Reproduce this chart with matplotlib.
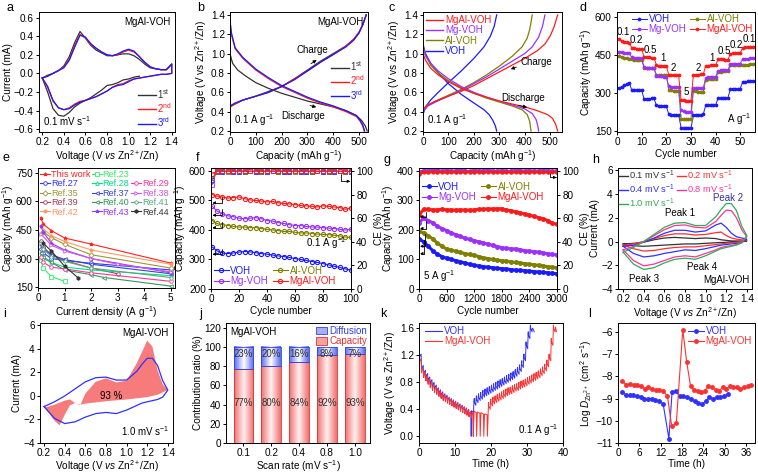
import numpy as np
import matplotlib
matplotlib.use('Agg')
import matplotlib.pyplot as plt
from matplotlib.colors import LinearSegmentedColormap
from matplotlib.lines import Line2D
from matplotlib.patches import Patch

plt.rcParams['font.family'] = ['Liberation Sans', 'DejaVu Sans']
plt.rcParams['mathtext.fontset'] = 'custom'
plt.rcParams['mathtext.rm'] = 'Liberation Sans'
plt.rcParams['mathtext.it'] = 'Liberation Sans:italic'
plt.rcParams['mathtext.bf'] = 'Liberation Sans:bold'
plt.rcParams['axes.linewidth'] = 0.7
plt.rcParams['xtick.major.width'] = 0.7
plt.rcParams['ytick.major.width'] = 0.7
plt.rcParams['xtick.major.size'] = 2.5
plt.rcParams['ytick.major.size'] = 2.5
plt.rcParams['xtick.major.pad'] = 1.2
plt.rcParams['ytick.major.pad'] = 1.2
plt.rcParams['xtick.labelsize'] = 7.2
plt.rcParams['ytick.labelsize'] = 7.2
plt.rcParams['axes.labelsize'] = 7.2
plt.rcParams['axes.labelpad'] = 1.0

C_VOH = '#1a1aff'
C_MG = '#9b30ff'
C_AL = '#808000'
C_MGAL = '#ff1a1a'
FS = 7.0

# ---------------- data: panel a (CV, 0.1 mV/s) ----------------
a_v = [0.2, 0.25, 0.3, 0.35, 0.4, 0.45, 0.5, 0.55, 0.6, 0.65, 0.7, 0.75, 0.8,
       0.85, 0.9, 0.95, 1.0, 1.05, 1.1, 1.15, 1.2, 1.25, 1.3, 1.35, 1.4]
a_an1 = [-0.05, -0.02, 0.0, 0.03, 0.08, 0.18, 0.33, 0.45, 0.38, 0.3, 0.25, 0.22, 0.19,
         0.19, 0.2, 0.21, 0.21, 0.19, 0.15, 0.1, 0.06, 0.05, 0.04, 0.04, 0.1]
a_ca1 = [-0.05, -0.2, -0.38, -0.45, -0.46, -0.42, -0.36, -0.32, -0.29, -0.26, -0.22,
         -0.18, -0.13, -0.12, -0.1, -0.07, -0.06, -0.04, -0.03]
a_an2 = [-0.05, -0.03, 0.0, 0.03, 0.07, 0.15, 0.3, 0.42, 0.38, 0.31, 0.27, 0.23, 0.2,
         0.19, 0.2, 0.23, 0.25, 0.23, 0.18, 0.12, 0.07, 0.05, 0.04, 0.04, 0.1]
a_ca2 = [-0.05, -0.15, -0.3, -0.37, -0.39, -0.37, -0.33, -0.3, -0.29, -0.27, -0.25,
         -0.22, -0.19, -0.15, -0.12, -0.11, -0.08, -0.06, -0.05, -0.04, -0.03, -0.02,
         -0.01, -0.01, 0.0]
a_an3 = [-0.05, -0.03, 0.0, 0.03, 0.06, 0.14, 0.28, 0.41, 0.39, 0.32, 0.27, 0.23, 0.2,
         0.19, 0.21, 0.24, 0.26, 0.24, 0.18, 0.12, 0.07, 0.05, 0.04, 0.04, 0.1]
a_ca3 = [-0.05, -0.14, -0.29, -0.37, -0.39, -0.38, -0.34, -0.31, -0.29, -0.27, -0.25,
         -0.22, -0.19, -0.15, -0.13, -0.12, -0.09, -0.06, -0.05, -0.04, -0.03, -0.02,
         -0.01, -0.01, 0.0]

# ---------------- panel b (GCD, MgAl-VOH) ----------------
b_dis1_c = [0, 10, 30, 60, 100, 150, 200, 250, 300, 350, 400, 450, 490, 510, 525, 532]
b_dis1_v = [1.0, 0.9, 0.83, 0.77, 0.7, 0.64, 0.59, 0.55, 0.51, 0.48, 0.45, 0.41, 0.36, 0.31, 0.25, 0.2]
b_dis2_c = [0, 5, 20, 50, 100, 150, 200, 250, 300, 350, 400, 450, 490, 505, 515, 520]
b_dis2_v = [1.33, 1.2, 1.05, 0.95, 0.83, 0.74, 0.66, 0.6, 0.54, 0.49, 0.45, 0.4, 0.35, 0.3, 0.25, 0.2]
b_dis3_c = [0, 5, 20, 50, 100, 150, 200, 250, 300, 350, 400, 450, 490, 505, 515, 522]
b_dis3_v = [1.35, 1.22, 1.06, 0.96, 0.84, 0.75, 0.67, 0.61, 0.55, 0.5, 0.46, 0.41, 0.36, 0.31, 0.26, 0.2]
b_chg_c = [0, 20, 50, 100, 150, 200, 250, 300, 350, 400, 450, 480, 500, 515, 528]
b_chg1_v = [0.45, 0.48, 0.52, 0.56, 0.61, 0.66, 0.74, 0.83, 0.92, 1.0, 1.08, 1.15, 1.22, 1.3, 1.4]
b_chg2_v = [0.45, 0.48, 0.52, 0.56, 0.6, 0.66, 0.74, 0.82, 0.91, 0.99, 1.08, 1.15, 1.22, 1.3, 1.4]
b_chg3_v = [0.46, 0.49, 0.52, 0.56, 0.6, 0.66, 0.73, 0.82, 0.91, 0.99, 1.07, 1.14, 1.21, 1.3, 1.4]

# ---------------- panel c (GCD, four samples) ----------------
c_mgal_dc = [0, 10, 30, 60, 100, 150, 200, 250, 300, 350, 400, 450, 490, 510, 522, 530]
c_mgal_dv = [1.0, 0.93, 0.85, 0.78, 0.71, 0.64, 0.59, 0.55, 0.51, 0.48, 0.45, 0.41, 0.37, 0.33, 0.27, 0.2]
c_mgal_cc = [0, 20, 50, 100, 150, 200, 250, 300, 350, 400, 450, 480, 500, 515, 530]
c_mgal_cv = [0.43, 0.47, 0.51, 0.56, 0.61, 0.67, 0.74, 0.81, 0.88, 0.95, 1.03, 1.1, 1.18, 1.27, 1.4]
c_mg_dc = [0, 10, 30, 60, 100, 150, 200, 250, 300, 350, 400, 430, 445, 452, 455]
c_mg_dv = [1.05, 0.98, 0.9, 0.82, 0.74, 0.66, 0.6, 0.55, 0.51, 0.47, 0.43, 0.38, 0.32, 0.25, 0.2]
c_mg_cc = [0, 20, 50, 100, 150, 200, 250, 300, 350, 400, 430, 455, 470, 480]
c_mg_cv = [0.4, 0.46, 0.5, 0.56, 0.62, 0.69, 0.76, 0.84, 0.92, 1.0, 1.07, 1.17, 1.28, 1.4]
c_al_dc = [0, 10, 30, 60, 100, 150, 200, 250, 300, 350, 390, 410, 420, 425]
c_al_dv = [1.08, 0.98, 0.88, 0.8, 0.72, 0.65, 0.59, 0.54, 0.5, 0.46, 0.42, 0.37, 0.3, 0.2]
c_al_cc = [0, 20, 50, 100, 150, 200, 250, 300, 350, 390, 410, 420, 430]
c_al_cv = [0.42, 0.47, 0.51, 0.57, 0.63, 0.7, 0.78, 0.87, 0.97, 1.07, 1.16, 1.25, 1.4]
c_voh_dc = [0, 10, 30, 60, 100, 150, 200, 240, 260, 275, 285, 290]
c_voh_dv = [1.1, 1.0, 0.9, 0.8, 0.69, 0.58, 0.49, 0.42, 0.37, 0.31, 0.25, 0.2]
c_voh_cc = [0, 10, 30, 60, 100, 150, 200, 240, 265, 280, 290]
c_voh_cv = [0.37, 0.45, 0.52, 0.6, 0.7, 0.82, 0.95, 1.07, 1.18, 1.28, 1.4]

# ---------------- panel d (rate capability, 55 cycles) ----------------
d_cycles = np.arange(1, 56)
d_mgal = [512, 505, 502, 500, 498, 478, 476, 475, 474, 474, 442, 440, 440, 439, 439,
          410, 408, 408, 408, 407, 372, 371, 370, 370, 370, 272, 270, 268, 268, 268,
          372, 372, 372, 373, 373, 408, 408, 409, 409, 409, 432, 432, 432, 431, 431,
          455, 456, 456, 457, 457, 478, 480, 480, 481, 481]
d_mg = [462, 460, 458, 457, 456, 440, 438, 437, 436, 436, 402, 400, 399, 398, 398,
        368, 366, 365, 364, 364, 328, 325, 324, 323, 323, 232, 228, 226, 224, 224,
        318, 318, 319, 319, 319, 360, 361, 361, 362, 362, 388, 389, 390, 390, 390,
        414, 415, 415, 416, 416, 434, 435, 435, 436, 436]
d_al = [445, 440, 438, 436, 435, 432, 431, 430, 430, 430, 400, 399, 398, 398, 397,
        372, 371, 370, 370, 369, 312, 310, 309, 308, 308, 198, 197, 197, 196, 196,
        308, 306, 305, 304, 304, 352, 353, 354, 354, 354, 383, 384, 385, 385, 385,
        410, 410, 411, 411, 411, 410, 412, 412, 413, 413]
d_voh = [320, 325, 330, 335, 340, 310, 310, 311, 311, 311, 275, 276, 277, 278, 278,
         250, 249, 249, 248, 248, 215, 214, 214, 213, 213, 162, 161, 161, 161, 160,
         212, 213, 213, 214, 215, 250, 251, 252, 252, 252, 278, 279, 280, 280, 280,
         314, 315, 316, 316, 317, 343, 344, 345, 345, 346]
d_rate_labels = ['0.1', '0.2', '0.5', '1', '2', '5', '2', '1', '0.5', '0.2', '0.1']
d_label_x = [2.5, 8, 13.5, 18.5, 23, 28, 33, 38.5, 43.5, 48.5, 53.5]
d_label_y = [522, 488, 450, 418, 380, 282, 380, 418, 445, 468, 492]

# ---------------- panel e (comparison) ----------------
tw_x = [0.1, 0.2, 0.5, 1, 2, 5];        tw_y = [515, 480, 447, 408, 376, 276]
r23_x = [0.1, 0.2, 0.5, 1];             r23_y = [290, 250, 205, 180]
r27_x = [0.1, 0.2, 0.5, 1, 2, 5];       r27_y = [350, 330, 300, 290, 275, 240]
r28_x = [0.1, 0.2, 0.5, 1, 2, 5];       r28_y = [320, 300, 280, 255, 240, 210]
r29_x = [0.1, 0.2, 0.5, 1, 2, 5];       r29_y = [310, 280, 255, 245, 225, 180]
r35_x = [0.2, 0.5, 1, 2, 5];            r35_y = [440, 410, 375, 320, 250]
r37_x = [0.1, 0.2, 0.5, 1, 2, 5];       r37_y = [370, 350, 320, 295, 270, 220]
r38_x = [0.1, 0.5, 1, 2, 3, 5];         r38_y = [430, 370, 340, 300, 270, 230]
r39_x = [0.1, 0.2, 0.5, 1, 2, 3];       r39_y = [390, 360, 320, 290, 250, 220]
r40_x = [0.1, 0.2, 0.5, 1, 2, 2.5, 5];  r40_y = [330, 310, 280, 240, 215, 200, 155]
r41_x = [0.1, 0.2, 0.5, 1, 2, 5];       r41_y = [380, 350, 310, 285, 250, 200]
r42_x = [0.1, 0.5, 1, 2, 5];            r42_y = [470, 420, 390, 345, 270]
r43_x = [0.1, 0.2, 0.5, 1, 2, 5];       r43_y = [470, 440, 380, 345, 300, 225]
r44_x = [0.2, 0.5, 1, 1.5];             r44_y = [380, 340, 260, 200]

# ---------------- panel f (0.1 A/g cycling) ----------------
f_cyc = [1, 4, 8, 12, 16, 20, 24, 28, 32, 36, 40, 44, 48, 52, 56, 60, 64, 68, 72, 76,
         80, 84, 88, 92, 96, 100]
f_mgal = [520, 515, 512, 508, 510, 512, 506, 502, 500, 498, 495, 497, 492, 490, 488,
          486, 483, 482, 480, 478, 482, 480, 478, 476, 470, 475]
f_mg = [480, 465, 455, 448, 445, 440, 438, 440, 442, 438, 432, 430, 425, 422, 418, 415,
        415, 412, 410, 410, 408, 406, 405, 402, 400, 402]
f_al = [432, 422, 418, 415, 412, 410, 410, 408, 408, 405, 402, 400, 398, 395, 395, 392,
        390, 390, 388, 386, 385, 384, 382, 380, 376, 375]
f_voh = [342, 330, 322, 320, 322, 325, 327, 326, 323, 320, 318, 315, 312, 310, 307, 303,
         300, 297, 293, 290, 286, 282, 277, 273, 268, 264]
f_ce_mgal = [97.5, 99.6, 99.7, 99.8, 99.7, 99.8, 99.7, 99.8, 99.8, 99.7, 99.8, 99.8, 99.7,
             99.8, 99.7, 99.8, 99.8, 99.7, 99.8, 99.8, 99.7, 99.8, 99.8, 99.7, 99.8, 99.8]
f_ce_mg = [88.5, 99.8, 100.2, 100.0, 100.1, 100.3, 100.0, 100.1, 100.2, 100.0, 100.1, 100.3,
           100.0, 100.1, 100.2, 100.0, 100.1, 100.2, 100.0, 100.1, 100.3, 100.0, 100.1,
           100.2, 100.0, 100.1]
f_ce_al = [94.0, 99.5, 99.6, 99.5, 99.6, 99.7, 99.5, 99.6, 99.6, 99.5, 99.6, 99.7, 99.5,
           99.6, 99.6, 99.5, 99.6, 99.7, 99.5, 99.6, 99.6, 99.5, 99.6, 99.7, 99.5, 99.6]
f_ce_voh = [92.0, 99.4, 99.5, 99.6, 99.5, 99.4, 99.5, 99.6, 99.5, 99.4, 99.5, 99.6, 99.5,
            99.4, 99.5, 99.6, 99.5, 99.4, 99.5, 99.6, 99.5, 99.4, 99.5, 99.6, 99.5, 99.4]

# ---------------- panel g (5 A/g long cycling) ----------------
g_cyc = [1, 100, 200, 300, 400, 500, 600, 700, 800, 900, 1000, 1100, 1200, 1300, 1400,
         1500, 1600, 1700, 1800, 1900, 2000, 2100, 2200, 2300, 2400, 2500, 2600, 2700,
         2800, 2900, 3000]
g_mgal = [250, 270, 270, 268, 268, 270, 268, 268, 267, 268, 268, 267, 268, 270, 270, 272,
          271, 272, 272, 268, 265, 262, 258, 254, 250, 246, 242, 238, 232, 222, 220]
g_mg = [225, 240, 232, 224, 212, 205, 198, 190, 184, 178, 172, 168, 164, 160, 156, 152,
        148, 144, 140, 138, 136, 136, 133, 130, 128, 127, 125, 122, 120, 117, 116]
g_al = [195, 190, 180, 170, 155, 145, 135, 132, 128, 124, 120, 117, 114, 110, 106, 103,
        100, 98, 96, 94, 92, 90, 88, 86, 84, 82, 80, 78, 76, 74, 72]
g_voh = [170, 160, 145, 130, 118, 110, 104, 100, 96, 92, 88, 84, 80, 78, 76, 74, 72, 70,
         69, 68, 66, 64, 63, 62, 60, 59, 58, 56, 55, 53, 52]
g_ce_mgal = [97.0, 99.2, 98.8, 99.3, 98.9, 99.1, 98.7, 99.2, 98.9, 99.0, 98.8, 99.3, 98.9,
             99.1, 98.8, 99.2, 98.9, 99.0, 98.7, 99.2, 98.9, 99.1, 98.8, 99.0, 98.9, 99.2,
             98.7, 99.0, 98.8, 99.1, 98.9]
g_ce_mg = [99.0, 100.5, 99.8, 101.0, 100.2, 99.6, 100.8, 100.0, 99.7, 100.9, 100.1, 99.5,
           100.7, 100.2, 99.8, 101.0, 100.1, 99.6, 100.6, 100.0, 99.7, 100.8, 100.3, 99.9,
           100.5, 100.0, 99.6, 100.9, 100.2, 99.8, 100.4]
g_ce_al = [98.0, 99.6, 99.4, 99.8, 99.5, 99.7, 99.3, 99.6, 99.5, 99.8, 99.4, 99.6, 99.5,
           99.7, 99.3, 99.6, 99.5, 99.8, 99.4, 99.6, 99.5, 99.7, 99.3, 99.6, 99.5, 99.8,
           99.4, 99.6, 99.5, 99.7, 99.4]
g_ce_voh = [97.5, 99.8, 100.2, 99.6, 100.4, 99.9, 100.1, 99.7, 100.3, 99.8, 100.2, 99.6,
            100.1, 99.9, 100.3, 99.7, 100.0, 99.8, 100.2, 99.6, 100.1, 99.9, 100.3, 99.7,
            100.0, 99.8, 100.2, 99.6, 100.1, 99.9, 98.8]

# ---------------- panel h (CV at various scan rates) ----------------
h_v = [0.2, 0.3, 0.4, 0.5, 0.6, 0.7, 0.8, 0.9, 1.0, 1.1, 1.15, 1.2, 1.25, 1.3, 1.35, 1.4]
h_an_01 = [-0.2, -0.15, -0.05, 0.15, 0.3, 0.35, 0.3, 0.25, 0.3, 0.25, 0.15, 0.1, 0.05, 0.05, 0.05, 0.05]
h_ca_01 = [-0.2, -0.35, -0.4, -0.35, -0.3, -0.25, -0.2, -0.2, -0.15, -0.1, -0.08, -0.06, -0.05, -0.03, 0.0, 0.05]
h_an_02 = [-0.3, -0.2, 0.0, 0.25, 0.5, 0.65, 0.65, 0.55, 0.6, 0.75, 0.8, 0.5, 0.3, 0.2, 0.15, 0.1]
h_ca_02 = [-0.3, -0.6, -0.8, -0.75, -0.6, -0.5, -0.45, -0.45, -0.35, -0.25, -0.2, -0.15, -0.1, -0.05, 0.0, 0.1]
h_an_04 = [-0.4, -0.3, -0.05, 0.3, 0.7, 0.95, 0.95, 0.8, 0.9, 1.4, 1.55, 1.2, 0.7, 0.4, 0.3, 0.2]
h_ca_04 = [-0.4, -1.0, -1.3, -1.2, -1.0, -0.85, -0.7, -0.75, -0.6, -0.4, -0.3, -0.25, -0.2, -0.15, -0.1, 0.2]
h_an_08 = [-0.7, -0.4, 0.0, 0.5, 1.0, 1.35, 1.4, 1.2, 1.15, 1.7, 2.2, 2.65, 2.6, 2.0, 1.0, 0.4]
h_ca_08 = [-0.7, -1.6, -2.05, -1.9, -1.6, -1.3, -1.2, -1.3, -1.0, -0.7, -0.5, -0.4, -0.35, -0.25, -0.1, 0.4]
h_an_10 = [-0.9, -0.5, 0.0, 0.6, 1.2, 1.55, 1.6, 1.35, 1.35, 2.1, 2.7, 3.2, 3.2, 2.6, 1.3, 0.5]
h_ca_10 = [-0.9, -1.9, -2.35, -2.2, -1.8, -1.5, -1.4, -1.5, -1.2, -0.8, -0.6, -0.5, -0.4, -0.3, -0.1, 0.5]

# ---------------- panel i (capacitive contribution at 1.0 mV/s) ----------------
i_cap_v = [0.2, 0.3, 0.4, 0.45, 0.5, 0.55, 0.6, 0.7, 0.8, 0.9, 1.0, 1.1, 1.2, 1.25, 1.3,
           1.35, 1.4, 1.3, 1.2, 1.0, 0.8, 0.6, 0.55, 0.5, 0.45, 0.4, 0.35, 0.3, 0.25, 0.2]
i_cap_i = [-1.0, -0.75, -0.4, -0.3, -0.6, -0.8, 0.2, 1.2, 1.5, 1.15, 1.3, 2.8, 4.7, 4.2,
           2.2, 1.0, 0.5, 0.1, -0.1, -0.3, -0.45, -0.65, -0.75, -0.6, -0.8, -1.6, -2.5,
           -2.1, -1.5, -1.0]

# ---------------- panel j (contribution ratio) ----------------
j_rates = ['0.1', '0.2', '0.4', '0.8', '1.0']
j_capacitive = [77, 80, 84, 92, 93]
j_diffusion = [23, 20, 16, 8, 7]

# ---------------- panel k (GITT) ----------------
k_step = 0.6
k_voh_dis = [1.45, 1.22, 1.05, 0.98, 0.93, 0.88, 0.84, 0.8, 0.76, 0.72, 0.69, 0.66, 0.63,
             0.61, 0.58, 0.56, 0.54, 0.52, 0.5, 0.48, 0.46, 0.44, 0.42, 0.4, 0.37]
k_voh_dip_t = [14.5, 14.6, 15.0, 15.1, 15.2]
k_voh_dip_v = [0.0, 0.38, 0.36, 0.0, 0.4]
k_voh_chg = [0.4, 0.46, 0.5, 0.53, 0.55, 0.58, 0.6, 0.62, 0.64, 0.66, 0.68, 0.7, 0.72,
             0.74, 0.76, 0.78, 0.8, 0.82, 0.84, 0.86, 0.89, 0.92, 0.96, 1.02, 1.12, 1.3,
             1.45, 1.55]
k_voh_tail_t = [31.6, 32.0]
k_voh_tail_v = [1.6, 1.55]
k_mgal_dis = [1.3, 1.15, 1.02, 0.95, 0.9, 0.85, 0.8, 0.76, 0.73, 0.7, 0.67, 0.64, 0.61,
              0.59, 0.57, 0.55, 0.53, 0.51, 0.49, 0.47, 0.45, 0.43, 0.41, 0.39, 0.37, 0.35]
k_mgal_dip_t = [15.1, 15.3, 15.9, 16.0, 16.2, 16.9, 17.0, 17.2, 17.9, 18.0, 18.2, 18.9, 19.0, 19.2]
k_mgal_dip_v = [0.0, 0.37, 0.35, 0.0, 0.36, 0.34, 0.0, 0.35, 0.33, 0.0, 0.33, 0.32, 0.0, 0.3]
k_mgal_chg = [0.3, 0.4, 0.45, 0.48, 0.5, 0.52, 0.54, 0.56, 0.58, 0.6, 0.62, 0.63, 0.65,
              0.67, 0.68, 0.7, 0.72, 0.73, 0.75, 0.77, 0.79, 0.81, 0.83, 0.85, 0.87, 0.9,
              0.93, 0.97, 1.03, 1.12, 1.35, 1.55]
k_mgal_tail_t = [37.9, 38.2]
k_mgal_tail_v = [1.62, 1.55]

# ---------------- panel l (diffusion coefficient) ----------------
l_voh_t = [1.2, 2.3, 3.3, 4.3, 5.3, 6.4, 7.4, 8.4, 9.5, 10.5, 11.5, 12.7, 14.3, 15.2, 16.3,
           17.3, 18.4, 19.4, 20.5, 21.5, 22.5, 23.6, 24.7, 25.7, 26.7, 27.8, 28.8, 29.8, 30.9]
l_voh_d = [-8.7, -8.85, -8.85, -8.85, -8.9, -8.95, -9.0, -9.0, -9.0, -9.05, -9.1, -9.25,
           -10.8, -8.7, -8.65, -8.9, -8.9, -8.95, -9.0, -9.1, -9.2, -9.25, -9.1, -8.95,
           -9.0, -8.95, -8.95, -8.9, -8.8]
l_mgal_t = [1.2, 2.3, 3.3, 4.4, 5.4, 6.5, 7.5, 8.5, 9.6, 10.6, 11.6, 12.7, 13.9, 15.1,
            16.4, 18.2, 19.3, 20.4, 21.4, 22.4, 23.4, 24.4, 25.4, 26.4, 27.4, 28.4, 29.4,
            30.4, 31.4, 32.4, 33.4, 34.4, 35.4, 36.4, 37.4]
l_mgal_d = [-8.2, -8.4, -8.35, -8.4, -8.4, -8.45, -8.55, -8.5, -8.55, -8.6, -8.6, -8.65,
            -8.9, -10.25, -10.1, -5.9, -7.35, -8.45, -8.6, -8.65, -8.7, -8.65, -8.45, -8.5,
            -8.6, -8.65, -8.5, -8.55, -8.45, -8.5, -8.5, -8.55, -8.5, -8.45, -8.4]

W, H = 758, 474
fig = plt.figure(figsize=(W / 100, H / 100), dpi=100)


def px_axes(l, t, r, b):
    return fig.add_axes([l / W, 1 - b / H, (r - l) / W, (b - t) / H])


def colored_legend(ax, handles, labels, colors, **kw):
    kw.setdefault('fontsize', FS)
    kw.setdefault('handletextpad', 0.2)
    kw.setdefault('labelspacing', 0.05)
    kw.setdefault('borderaxespad', 0.1)
    kw.setdefault('borderpad', 0.2)
    leg = ax.legend(handles, labels, frameon=False, **kw)
    for txt, c in zip(leg.get_texts(), colors):
        txt.set_color(c)
    return leg


def gitt(t0, relaxed, eta, pulse=0.15):
    t, v = [], []
    for i, r in enumerate(relaxed):
        ti = t0 + i * k_step
        t += [ti, ti]
        v += [r, r + eta / 2]
        if i + 1 < len(relaxed):
            t += [ti + pulse, ti + pulse]
            v += [relaxed[i + 1] + eta, relaxed[i + 1] + eta / 2]
    return t, v


VLAB = r'Voltage (V $\it{vs}$ Zn$^{2+}$/Zn)'
ORD = ['1$^{\\mathrm{st}}$', '2$^{\\mathrm{nd}}$', '3$^{\\mathrm{rd}}$']
ROW3_T, ROW3_B = 323, 443

# ---------------- a ----------------
ax = px_axes(39, 12, 175, 132)
ax.plot(a_v[:19][::-1] + a_v, a_ca1[::-1] + a_an1, color='#333333', lw=0.9)
ax.plot(a_v + a_v[::-1], a_an2 + a_ca2[::-1], color=C_MGAL, lw=0.9)
ax.plot(a_v + a_v[::-1], a_an3 + a_ca3[::-1], color=C_VOH, lw=0.9)
ax.set_xlim(0.17, 1.43)
ax.set_ylim(-0.63, 0.66)
ax.set_xticks([0.2, 0.4, 0.6, 0.8, 1.0, 1.2, 1.4])
ax.set_yticks([-0.6, -0.4, -0.2, 0.0, 0.2, 0.4, 0.6])
ax.set_xlabel(VLAB)
ax.set_ylabel('Current (mA)')
ax.text(0.97, 0.96, 'MgAl-VOH', transform=ax.transAxes, ha='right', va='top', fontsize=FS)
ax.text(0.03, 0.03, r'0.1 mV s$^{-1}$', transform=ax.transAxes, ha='left', va='bottom', fontsize=FS)
hs = [Line2D([], [], color=c, lw=1) for c in ['#333333', C_MGAL, C_VOH]]
colored_legend(ax, hs, ORD, ['#333333', C_MGAL, C_VOH], loc='lower right', handlelength=1.8)

# ---------------- b ----------------
ax = px_axes(230, 12, 368, 132)
ax.plot(b_dis1_c, b_dis1_v, color='#333333', lw=0.9)
ax.plot(b_chg_c, b_chg1_v, color='#333333', lw=0.9)
ax.plot(b_dis2_c, b_dis2_v, color=C_MGAL, lw=0.9)
ax.plot(b_chg_c, b_chg2_v, color=C_MGAL, lw=0.9)
ax.plot(b_dis3_c, b_dis3_v, color=C_VOH, lw=0.9)
ax.plot(b_chg_c, b_chg3_v, color=C_VOH, lw=0.9)
ax.set_xlim(0, 535)
ax.set_ylim(0.19, 1.43)
ax.set_xticks([0, 100, 200, 300, 400, 500])
ax.set_yticks([0.2, 0.4, 0.6, 0.8, 1.0, 1.2, 1.4])
ax.set_xlabel(r'Capacity (mAh g$^{-1}$)')
ax.set_ylabel(r'Voltage (V vs Zn$^{2+}$/Zn)')
ax.text(0.97, 0.96, 'MgAl-VOH', transform=ax.transAxes, ha='right', va='top', fontsize=FS)
ax.text(0.03, 0.03, r'0.1 A g$^{-1}$', transform=ax.transAxes, ha='left', va='bottom', fontsize=FS)
ax.text(320, 1.04, 'Charge', ha='center', va='center', fontsize=FS)
ax.annotate('', xy=(345, 0.95), xytext=(305, 0.88),
            arrowprops=dict(arrowstyle='-|>', lw=0.6, color='k', mutation_scale=5))
ax.text(285, 0.36, 'Discharge', ha='center', va='center', fontsize=FS)
ax.annotate('', xy=(345, 0.44), xytext=(300, 0.47),
            arrowprops=dict(arrowstyle='-|>', lw=0.6, color='k', mutation_scale=5))
hs = [Line2D([], [], color=c, lw=1) for c in ['#333333', C_MGAL, C_VOH]]
colored_legend(ax, hs, ORD, ['#333333', C_MGAL, C_VOH], loc='center right',
               bbox_to_anchor=(1.0, 0.43), handlelength=1.8)

# ---------------- c ----------------
ax = px_axes(423, 12, 562, 132)
for dc, dv, cc, cv, col in [(c_voh_dc, c_voh_dv, c_voh_cc, c_voh_cv, C_VOH),
                            (c_al_dc, c_al_dv, c_al_cc, c_al_cv, C_AL),
                            (c_mg_dc, c_mg_dv, c_mg_cc, c_mg_cv, C_MG),
                            (c_mgal_dc, c_mgal_dv, c_mgal_cc, c_mgal_cv, C_MGAL)]:
    ax.plot(dc, dv, color=col, lw=0.9)
    ax.plot(cc, cv, color=col, lw=0.9)
ax.set_xlim(0, 547)
ax.set_ylim(0.19, 1.43)
ax.set_xticks([0, 100, 200, 300, 400, 500])
ax.set_yticks([0.2, 0.4, 0.6, 0.8, 1.0, 1.2, 1.4])
ax.set_xlabel(r'Capacity (mAh g$^{-1}$)')
ax.set_ylabel(r'Voltage (V vs Zn$^{2+}$/Zn)')
ax.text(0.03, 0.03, r'0.1 A g$^{-1}$', transform=ax.transAxes, ha='left', va='bottom', fontsize=FS)
ax.text(385, 0.91, 'Charge', ha='left', va='center', fontsize=FS)
ax.annotate('', xy=(335, 0.83), xytext=(378, 0.87),
            arrowprops=dict(arrowstyle='-|>', lw=0.6, color='k', mutation_scale=5))
ax.text(395, 0.54, 'Discharge', ha='center', va='center', fontsize=FS)
ax.annotate('', xy=(420, 0.44), xytext=(365, 0.47),
            arrowprops=dict(arrowstyle='-|>', lw=0.6, color='k', mutation_scale=5))
cols = [C_MGAL, C_MG, C_AL, C_VOH]
hs = [Line2D([], [], color=c, lw=1) for c in cols]
colored_legend(ax, hs, ['MgAl-VOH', 'Mg-VOH', 'Al-VOH', 'VOH'], cols, loc='upper left',
               handlelength=1.8)

# ---------------- d ----------------
ax = px_axes(617, 12, 755, 132)
for ys, col in [(d_voh, C_VOH), (d_al, C_AL), (d_mg, C_MG), (d_mgal, C_MGAL)]:
    ax.plot(d_cycles, ys, color=col, lw=0.7, marker='o', ms=1.7)
for s, x, y in zip(d_rate_labels, d_label_x, d_label_y):
    ax.text(x, y, s, ha='center', va='bottom', fontsize=FS)
ax.text(0.97, 0.04, r'A g$^{-1}$', transform=ax.transAxes, ha='right', va='bottom', fontsize=FS)
ax.set_xlim(0, 56)
ax.set_ylim(145, 620)
ax.set_xticks([0, 10, 20, 30, 40, 50])
ax.set_yticks([150, 300, 450, 600])
ax.set_xlabel('Cycle number')
ax.set_ylabel(r'Capacity (mAh g$^{-1}$)')
cols = [C_VOH, C_MG, C_AL, C_MGAL]
hs = [Line2D([], [], color=c, lw=0.7, marker='o', ms=1.7) for c in cols]
colored_legend(ax, hs, ['VOH', 'Mg-VOH', 'Al-VOH', 'MgAl-VOH'], cols, loc='upper right',
               ncol=2, handlelength=1.5, columnspacing=0.4, borderaxespad=0.0)

# ---------------- e ----------------
ax = px_axes(38, 168, 175, 288)
e_table = [
    ('This work', tw_x, tw_y, '#ff2020', '*', True),
    ('Ref.27', r27_x, r27_y, '#3333ff', 'o', False),
    ('Ref.35', r35_x, r35_y, '#999933', 'D', False),
    ('Ref.39', r39_x, r39_y, '#a0405a', 'o', False),
    ('Ref.42', r42_x, r42_y, '#ff9966', 'p', True),
    ('Ref.23', r23_x, r23_y, '#33ee66', 's', False),
    ('Ref.28', r28_x, r28_y, '#00dd88', '^', False),
    ('Ref.37', r37_x, r37_y, '#3344cc', '<', False),
    ('Ref.40', r40_x, r40_y, '#339955', '<', False),
    ('Ref.43', r43_x, r43_y, '#9933ff', '*', True),
    (None, None, None, None, None, None),
    ('Ref.29', r29_x, r29_y, '#ff3399', 'o', False),
    ('Ref.38', r38_x, r38_y, '#cc55ee', '>', False),
    ('Ref.41', r41_x, r41_y, '#55aa77', 'h', False),
    ('Ref.44', r44_x, r44_y, '#333333', 'h', True),
]
hs, labs, cols = [], [], []
for lab, xs, ys, col, mk, filled in e_table:
    if lab is None:
        hs.append(Line2D([], [], color='none'))
        labs.append('')
        cols.append('k')
        continue
    ax.plot(xs, ys, color=col, lw=0.8, marker=mk, ms=2.6, mfc=col if filled else 'white', mew=0.6)
    hs.append(Line2D([], [], color=col, lw=0.8, marker=mk, ms=2.6,
                     mfc=col if filled else 'white', mew=0.6))
    labs.append(lab)
    cols.append(col)
ax.set_xlim(0, 5.16)
ax.set_ylim(145, 776)
ax.set_xticks([0, 1, 2, 3, 4, 5])
ax.set_yticks([150, 300, 450, 600, 750])
ax.set_xlabel(r'Current density (A g$^{-1}$)')
ax.set_ylabel(r'Capacity (mAh g$^{-1}$)', labelpad=0.2)
colored_legend(ax, hs, labs, cols, loc='upper left', ncol=3, fontsize=6.6, handlelength=1.1,
               handletextpad=0.1, columnspacing=0.15, borderaxespad=0.05, borderpad=0.15)

# ---------------- f ----------------
ax = px_axes(211, 168, 351, 289)
ax2 = ax.twinx()
for ys, ce, col in [(f_voh, f_ce_voh, C_VOH), (f_al, f_ce_al, C_AL), (f_mg, f_ce_mg, C_MG),
                    (f_mgal, f_ce_mgal, C_MGAL)]:
    ax.plot(f_cyc, ys, color=col, lw=0.8, marker='o', ms=3, mfc='none', mew=0.8)
    ax2.plot(f_cyc, ce, color=col, lw=0.5, marker='s', ms=2.5, mfc='none', mew=0.6)
ax.set_xlim(0, 100)
ax.set_ylim(200, 610)
ax2.set_ylim(0, 102.5)
ax.set_xticks([0, 20, 40, 60, 80, 100])
ax.set_yticks([200, 300, 400, 500, 600])
ax2.set_yticks([0, 20, 40, 60, 80, 100])
ax.set_xlabel('Cycle number')
ax.set_ylabel(r'Capacity (mAh g$^{-1}$)')
ax2.set_ylabel('CE (%)')
ax.text(0.97, 0.38, r'0.1 A g$^{-1}$', transform=ax.transAxes, ha='right', va='center', fontsize=FS)
arw = dict(arrowstyle='-|>', lw=0.6, color='k', mutation_scale=4,
           connectionstyle='angle,angleA=90,angleB=0,rad=0', shrinkA=0, shrinkB=0)
for y0, y1 in [(512, 492), (470, 450), (427, 408), (335, 318)]:
    ax.annotate('', xy=(1, y1), xytext=(8, y0), arrowprops=arw)
ax.annotate('', xy=(99.5, 565), xytext=(93, 588), arrowprops=arw)
cols = [C_VOH, C_MG, C_AL, C_MGAL]
hs = [Line2D([], [], color=c, lw=0.8, marker='o', ms=3, mfc='none', mew=0.8) for c in cols]
colored_legend(ax, hs, ['VOH', 'Mg-VOH', 'Al-VOH', 'MgAl-VOH'], cols, loc='lower left',
               ncol=2, handlelength=1.5, columnspacing=0.5)

# ---------------- g ----------------
ax = px_axes(419, 168, 557, 289)
ax2 = ax.twinx()
for ys, ce, col in [(g_voh, g_ce_voh, C_VOH), (g_al, g_ce_al, C_AL), (g_mg, g_ce_mg, C_MG),
                    (g_mgal, g_ce_mgal, C_MGAL)]:
    ax.plot(g_cyc, ys, color=col, lw=2.2, marker='o', ms=2.5)
    ax2.plot(g_cyc, ce, color=col, lw=1.8, marker='o', ms=2)
ax.set_xlim(0, 3000)
ax.set_ylim(0, 410)
ax2.set_ylim(0, 102.5)
ax.set_xticks([0, 600, 1200, 1800, 2400, 3000])
ax.set_yticks([0, 100, 200, 300, 400])
ax2.set_yticks([0, 20, 40, 60, 80, 100])
ax.set_xlabel('Cycle number')
ax.set_ylabel(r'Capacity (mAh g$^{-1}$)')
ax2.set_ylabel('CE (%)')
ax.text(0.03, 0.04, r'5 A g$^{-1}$', transform=ax.transAxes, ha='left', va='bottom', fontsize=FS)
for y0, y1, x0 in [(262, 245, 150), (232, 205, 150), (185, 145, 120), (165, 120, 110)]:
    ax.annotate('', xy=(20, y1), xytext=(x0, y0), arrowprops=arw)
ax.annotate('', xy=(2990, 378), xytext=(2850, 395), arrowprops=arw)
hs = [Line2D([], [], color=c, lw=0.8, marker='o', ms=2.5) for c in cols]
colored_legend(ax, hs, ['VOH', 'Mg-VOH', 'Al-VOH', 'MgAl-VOH'], cols, loc='upper left',
               bbox_to_anchor=(0.0, 0.91), ncol=2, handlelength=1.5, columnspacing=0.5)

# ---------------- h ----------------
ax = px_axes(618, 168, 752, 289)
h_cols = ['#333333', '#ff3030', '#3030ff', '#ff3399', '#33aa55']
for an, ca, col in [(h_an_01, h_ca_01, h_cols[0]), (h_an_02, h_ca_02, h_cols[1]),
                    (h_an_04, h_ca_04, h_cols[2]), (h_an_08, h_ca_08, h_cols[3]),
                    (h_an_10, h_ca_10, h_cols[4])]:
    ax.plot(h_v + h_v[::-1], an + ca[::-1], color=col, lw=0.9)
ax.set_xlim(0.15, 1.45)
ax.set_ylim(-4, 6.2)
ax.set_xticks([0.2, 0.4, 0.6, 0.8, 1.0, 1.2, 1.4])
ax.set_yticks([-4, -2, 0, 2, 4, 6])
ax.set_xlabel(VLAB)
ax.set_ylabel('Current (mA)')
ax.text(0.75, 2.0, 'Peak 1', ha='center', va='bottom', fontsize=FS)
ax.text(1.22, 3.25, 'Peak 2', ha='center', va='bottom', fontsize=FS, color='#333399')
ax.text(0.4, -2.7, 'Peak 3', ha='center', va='top', fontsize=FS)
ax.text(0.97, -1.7, 'Peak 4', ha='center', va='top', fontsize=FS)
ax.text(0.98, 0.03, 'MgAl-VOH', transform=ax.transAxes, ha='right', va='bottom', fontsize=FS)
order = [0, 2, 4, 1, 3]
h_labels = [r'0.1 mV s$^{-1}$', r'0.2 mV s$^{-1}$', r'0.4 mV s$^{-1}$', r'0.8 mV s$^{-1}$',
            r'1.0 mV s$^{-1}$']
hs = [Line2D([], [], color=h_cols[k], lw=1) for k in order]
colored_legend(ax, hs, [h_labels[k] for k in order], [h_cols[k] for k in order],
               loc='upper left', ncol=2, fontsize=6.7, handlelength=1.0, handletextpad=0.1,
               columnspacing=0.2, borderaxespad=0.0, borderpad=0.1)

# ---------------- i ----------------
ax = px_axes(40, ROW3_T, 173, ROW3_B)
ax.fill(i_cap_v, i_cap_i, color='#f77b7b', lw=0)
ax.plot(h_v + h_v[::-1], h_an_10 + h_ca_10[::-1], color='#3030ff', lw=0.9)
ax.set_xlim(0.16, 1.45)
ax.set_ylim(-4, 6.2)
ax.set_xticks([0.2, 0.4, 0.6, 0.8, 1.0, 1.2, 1.4])
ax.set_yticks([-4, -2, 0, 2, 4, 6])
ax.set_xlabel(VLAB, labelpad=0.3)
ax.set_ylabel('Current (mA)')
ax.text(0.85, 0.0, '93 %', ha='center', va='center', fontsize=FS)
ax.text(0.97, 0.96, 'MgAl-VOH', transform=ax.transAxes, ha='right', va='top', fontsize=FS)
ax.text(0.97, 0.04, r'1.0 mV s$^{-1}$', transform=ax.transAxes, ha='right', va='bottom', fontsize=FS)

# ---------------- j ----------------
ax = px_axes(226, ROW3_T, 370, ROW3_B)
cm_red = LinearSegmentedColormap.from_list('red_bar', ['#f07070', '#fff0f0', '#f07070'])
cm_blue = LinearSegmentedColormap.from_list('blue_bar', ['#5a6cf0', '#ffffff', '#5a6cf0'])
grad = np.linspace(0, 1, 64).reshape(1, -1)
bw = 0.7
for k, (cap, dif) in enumerate(zip(j_capacitive, j_diffusion)):
    ax.imshow(grad, extent=[k - bw / 2, k + bw / 2, 0, cap], aspect='auto', cmap=cm_red, zorder=1)
    ax.imshow(grad, extent=[k - bw / 2, k + bw / 2, cap, cap + dif], aspect='auto', cmap=cm_blue, zorder=1)
    ax.bar(k, cap, width=bw, fill=False, edgecolor='#e03030', lw=0.6, zorder=2)
    ax.bar(k, dif, bottom=cap, width=bw, fill=False, edgecolor='#3040e0', lw=0.6, zorder=2)
    ax.text(k, 93, f'{dif}%', ha='center', va='center', fontsize=FS, color='#333333', zorder=3)
    ax.text(k, 42, f'{cap}%', ha='center', va='center', fontsize=FS, color='#333333', zorder=3)
ax.set_xlim(-0.62, 4.54)
ax.set_ylim(0, 125)
ax.set_xticks(range(len(j_rates)))
ax.set_xticklabels(j_rates)
ax.set_yticks([0, 20, 40, 60, 80, 100, 120])
ax.set_xlabel(r'Scan rate (mV s$^{-1}$)', labelpad=0.3)
ax.set_ylabel('Contribution ratio (%)')
ax.text(0.03, 0.97, 'MgAl-VOH', transform=ax.transAxes, ha='left', va='top', fontsize=FS)
hs = [Patch(facecolor='#a8b0f4', edgecolor='#3040e0', lw=0.6),
      Patch(facecolor='#f6a0a0', edgecolor='#e03030', lw=0.6)]
colored_legend(ax, hs, ['Diffusion', 'Capacity'], ['#3040e0', '#e03030'], loc='upper right',
               handlelength=1.2, handleheight=0.8)

# ---------------- k ----------------
ax = px_axes(419, ROW3_T, 563, ROW3_B)
t1, v1 = gitt(0.0, k_voh_dis, -0.08)
t2, v2 = gitt(15.2, k_voh_chg, 0.1)
ax.plot(t1 + k_voh_dip_t + t2 + k_voh_tail_t, v1 + k_voh_dip_v + v2 + k_voh_tail_v,
        color='#3030ff', lw=0.7)
t1, v1 = gitt(0.0, k_mgal_dis, -0.08)
t2, v2 = gitt(19.2, k_mgal_chg, 0.1)
ax.plot(t1 + k_mgal_dip_t + t2 + k_mgal_tail_t, v1 + k_mgal_dip_v + v2 + k_mgal_tail_v,
        color='#ff3030', lw=0.7)
ax.set_xlim(0, 40)
ax.set_ylim(-0.1, 1.68)
ax.set_xticks([0, 10, 20, 30, 40])
ax.set_yticks([0.0, 0.4, 0.8, 1.2, 1.6])
ax.set_xlabel('Time (h)', labelpad=0.3)
ax.set_ylabel(r'Voltage (V vs Zn$^{2+}$/Zn)')
ax.text(0.97, 0.04, r'0.1 A g$^{-1}$', transform=ax.transAxes, ha='right', va='bottom', fontsize=FS)
hs = [Line2D([], [], color=c, lw=0.8) for c in ['#3030ff', '#ff3030']]
colored_legend(ax, hs, ['VOH', 'MgAl-VOH'], ['#3030ff', '#ff3030'], loc='upper left',
               bbox_to_anchor=(0.02, 1.0), handlelength=1.8)

# ---------------- l ----------------
ax = px_axes(618, ROW3_T, 755, ROW3_B)
ax.plot(l_voh_t, l_voh_d, color='#3030ff', lw=0.8, marker='o', ms=2.5)
ax.plot(l_mgal_t, l_mgal_d, color='#ff3030', lw=0.8, marker='o', ms=2.5)
ax.set_xlim(0, 38.5)
ax.set_ylim(-11, -5.6)
ax.set_xticks([0, 6, 12, 18, 24, 30, 36])
ax.set_yticks([-11, -10, -9, -8, -7, -6])
ax.set_xlabel('Time (h)', labelpad=0.3)
ax.set_ylabel(r'Log $D_{\mathrm{Zn}^{2+}}$ (cm$^2$ s$^{-1}$)')
hs = [Line2D([], [], color=c, lw=0.8, marker='o', ms=2.5) for c in ['#3030ff', '#ff3030']]
colored_legend(ax, hs, ['VOH', 'MgAl-VOH'], ['#3030ff', '#ff3030'], loc='upper right',
               handlelength=1.6)

# panel letters
for s, x, y in [('a', 10, 8), ('b', 201, 8), ('c', 392, 8), ('d', 583, 8),
                ('e', 6, 158), ('f', 198, 158), ('g', 387, 160), ('h', 596, 160),
                ('i', 5, 314), ('j', 201, 314), ('k', 383, 314), ('l', 590, 314)]:
    fig.text(x / W, 1 - y / H, s, fontsize=9, ha='center', va='center')

fig.savefig('out.png', dpi=100)
